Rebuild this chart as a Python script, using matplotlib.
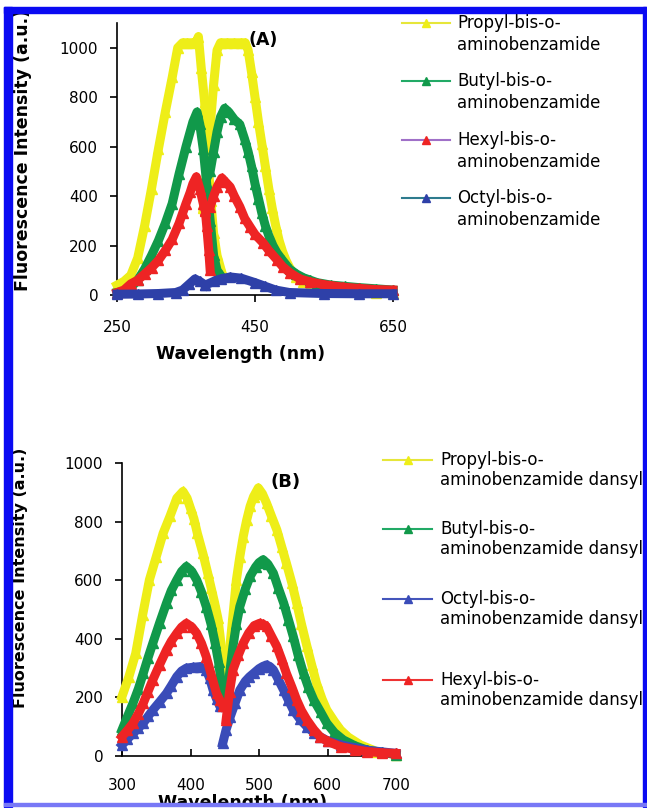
import matplotlib
matplotlib.use('Agg')
import matplotlib.pyplot as plt
from matplotlib.patches import Rectangle

plt.rcParams['font.family'] = ['DejaVu Sans']

# ==================== DATA ====================
# (A) bis-o-aminobenzamides, each spectrum has two parts
propyl_a_wl1 = [250, 260, 270, 280, 290, 300, 310, 320, 330, 338, 345, 352, 360, 365, 368, 372, 377, 382, 386, 390, 395, 400]
propyl_a_v1 = [40, 55, 80, 150, 280, 430, 590, 740, 880, 1000, 1020, 1020, 1020, 1025, 1045, 920, 780, 540, 380, 250, 160, 110]
propyl_a_wl2 = [375, 380, 385, 390, 395, 400, 410, 420, 430, 436, 440, 445, 450, 455, 460, 465, 470, 475, 480, 485,
                490, 495, 500, 505, 510, 520, 530, 550, 575, 600, 625, 650]
propyl_a_v2 = [350, 500, 680, 850, 990, 1020, 1020, 1020, 1020, 1020, 990, 900, 800, 700, 610, 520, 430, 350, 280, 220,
               175, 140, 112, 90, 72, 52, 40, 27, 18, 13, 10, 10]

butyl_a_wl1 = [250, 260, 270, 280, 290, 300, 310, 320, 330, 340, 350, 360, 366, 370, 375, 380, 385, 390, 395, 400]
butyl_a_v1 = [10, 15, 30, 60, 105, 160, 220, 290, 370, 490, 600, 700, 740, 690, 590, 450, 300, 160, 100, 80]
butyl_a_wl2 = [378, 385, 390, 395, 400, 406, 412, 420, 428, 435, 440, 445, 450, 455, 460, 465, 470, 476, 482, 490,
               500, 510, 520, 530, 540, 560, 580, 600, 625, 650]
butyl_a_v2 = [460, 500, 580, 660, 720, 755, 740, 710, 690, 630, 580, 520, 450, 390, 330, 280, 240, 200, 170, 140,
              105, 85, 70, 60, 50, 40, 35, 30, 25, 20]

hexyl_a_wl1 = [250, 260, 270, 280, 290, 300, 310, 320, 330, 340, 345, 350, 356, 360, 365, 370, 375, 378, 380, 383, 385]
hexyl_a_v1 = [10, 20, 45, 60, 85, 110, 140, 180, 225, 290, 330, 370, 415, 450, 478, 430, 370, 340, 280, 180, 100]
hexyl_a_wl2 = [378, 385, 390, 395, 402, 408, 414, 420, 428, 435, 443, 450, 462, 470, 482, 490, 501, 515, 530, 550,
               577, 600, 625, 650]
hexyl_a_v2 = [345, 355, 400, 437, 473, 455, 437, 400, 357, 310, 275, 245, 210, 180, 142, 115, 89, 65, 53, 42,
              32, 27, 22, 20]

octyl_a_wl1 = [250, 280, 310, 335, 345, 355, 363, 370, 378]
octyl_a_v1 = [3, 4, 6, 10, 20, 45, 65, 55, 40]
octyl_a_wl2 = [378, 390, 400, 414, 430, 450, 465, 480, 500, 550, 600, 650]
octyl_a_v2 = [40, 55, 65, 73, 68, 50, 35, 20, 10, 6, 5, 5]

# (B) dansyl derivatives
propyl_b_wl1 = [300, 310, 320, 330, 340, 350, 360, 370, 380, 389, 395, 400, 405, 410, 418, 425, 430, 435, 440, 445, 450]
propyl_b_v1 = [203, 270, 350, 480, 601, 680, 760, 818, 880, 903, 880, 845, 810, 760, 692, 625, 575, 525, 470, 374, 294]
propyl_b_wl2 = [452, 455, 458, 462, 467, 472, 477, 482, 487, 492, 499, 505, 511, 518, 526, 533, 540, 548, 555, 562,
                570, 577, 584, 592, 599, 610, 619, 630, 648, 672, 700]
propyl_b_v2 = [282, 330, 385, 480, 601, 680, 749, 805, 852, 885, 915, 895, 863, 820, 772, 715, 658, 590, 522, 450,
               374, 310, 248, 195, 157, 118, 89, 65, 38, 15, 5]

butyl_b_wl1 = [300, 308, 316, 324, 331, 338, 345, 355, 365, 372, 380, 387, 394, 402, 409, 416, 423, 430, 436, 441, 445, 450]
butyl_b_v1 = [89, 135, 180, 230, 282, 335, 385, 455, 522, 565, 601, 630, 647, 630, 601, 560, 510, 450, 385, 320, 248, 200]
butyl_b_wl2 = [452, 457, 462, 467, 472, 480, 487, 495, 500, 506, 513, 521, 528, 536, 543, 550, 557, 565, 572, 580,
               590, 599, 610, 623, 640, 658, 680, 700]
butyl_b_v2 = [190, 280, 374, 450, 510, 570, 613, 645, 660, 670, 655, 624, 575, 522, 465, 408, 345, 282, 235, 191,
              150, 112, 80, 55, 35, 20, 12, 5]

hexyl_b_wl1 = [300, 308, 316, 324, 331, 338, 345, 355, 365, 372, 380, 387, 394, 402, 409, 416, 423, 430, 438, 443, 448]
hexyl_b_v1 = [66, 88, 112, 145, 180, 220, 260, 312, 362, 392, 419, 440, 453, 440, 419, 385, 339, 280, 214, 190, 169]
hexyl_b_wl2 = [452, 457, 462, 470, 477, 485, 493, 501, 506, 511, 518, 526, 533, 540, 548, 555, 562, 570, 580, 589,
               600, 619, 640, 658, 680, 700]
hexyl_b_v2 = [123, 220, 294, 345, 385, 420, 445, 453, 450, 442, 410, 374, 330, 282, 235, 191, 155, 123, 90, 66,
              50, 32, 22, 15, 11, 9]

octyl_b_wl1 = [300, 308, 316, 324, 331, 338, 345, 355, 365, 372, 380, 387, 394, 404, 414, 423, 428, 433, 438, 443]
octyl_b_v1 = [38, 58, 77, 95, 112, 135, 157, 185, 214, 240, 271, 290, 300, 303, 305, 294, 265, 225, 195, 169]
octyl_b_wl2 = [447, 452, 458, 465, 472, 480, 486, 492, 500, 505, 511, 516, 521, 528, 536, 543, 550, 560, 570, 580,
               589, 600, 619, 640, 658, 680, 700]
octyl_b_v2 = [43, 90, 134, 180, 225, 255, 270, 282, 298, 305, 311, 305, 294, 262, 225, 190, 157, 125, 100, 80,
              66, 52, 38, 28, 20, 14, 9]

labels_a = ['Propyl-bis-o-\naminobenzamide', 'Butyl-bis-o-\naminobenzamide',
            'Hexyl-bis-o-\naminobenzamide', 'Octyl-bis-o-\naminobenzamide']
labels_b = ['Propyl-bis-o-\naminobenzamide dansyl', 'Butyl-bis-o-\naminobenzamide dansyl',
            'Octyl-bis-o-\naminobenzamide dansyl', 'Hexyl-bis-o-\naminobenzamide dansyl']

YELLOW = '#EEEE18'
GREEN = '#11994A'
RED = '#EE2424'
BLUE_A = '#2E40A8'
BLUE_B = '#3A4CB8'

# ==================== FIGURE ====================
W, H = 647, 808
fig = plt.figure(figsize=(W / 100, H / 100), dpi=100)
fig.patch.set_facecolor('white')


def px_rect(x0, y0, x1, y1):
    return [x0 / W, 1 - y1 / H, (x1 - x0) / W, (y1 - y0) / H]


def draw(ax, segs, color):
    for wl, val in segs:
        ax.plot(wl, val, color=color, lw=6.5, marker='^', ms=7.5, mec=color,
                zorder=3, clip_on=False)


def style(ax):
    for s in ['top', 'right']:
        ax.spines[s].set_visible(False)
    for s in ['left', 'bottom']:
        ax.spines[s].set_linewidth(1.2)
        ax.spines[s].set_zorder(2)


# Panel A
axA = fig.add_axes(px_rect(117, 23, 393, 295))
draw(axA, [(propyl_a_wl1, propyl_a_v1), (propyl_a_wl2, propyl_a_v2)], YELLOW)
draw(axA, [(butyl_a_wl1, butyl_a_v1), (butyl_a_wl2, butyl_a_v2)], GREEN)
draw(axA, [(hexyl_a_wl1, hexyl_a_v1), (hexyl_a_wl2, hexyl_a_v2)], RED)
draw(axA, [(octyl_a_wl1, octyl_a_v1), (octyl_a_wl2, octyl_a_v2)], BLUE_A)
axA.set_xlim(250, 650)
axA.set_ylim(0, 1100)
axA.set_xticks([250, 450, 650])
axA.set_yticks(range(0, 1001, 200))
axA.tick_params(axis='x', direction='out', length=5, width=1.2, pad=13, labelsize=11)
axA.tick_params(axis='y', direction='out', length=5, width=1.2, pad=8.5, labelsize=11)
style(axA)
axA.set_xlabel('Wavelength (nm)', fontsize=12.5, fontweight='bold')
axA.xaxis.set_label_coords(0.449, -0.185)
axA.set_ylabel('Fluorescence Intensity (a.u.)', fontsize=12.5, fontweight='bold')
axA.yaxis.set_label_coords(-0.308, 0.533)
axA.text(462, 1032, '(A)', fontsize=12.5, fontweight='bold', ha='center', va='center')

# Panel B
axB = fig.add_axes(px_rect(122, 463, 396, 756))
draw(axB, [(propyl_b_wl1, propyl_b_v1), (propyl_b_wl2, propyl_b_v2)], YELLOW)
draw(axB, [(butyl_b_wl1, butyl_b_v1), (butyl_b_wl2, butyl_b_v2)], GREEN)
draw(axB, [(octyl_b_wl1, octyl_b_v1), (octyl_b_wl2, octyl_b_v2)], BLUE_B)
draw(axB, [(hexyl_b_wl1, hexyl_b_v1), (hexyl_b_wl2, hexyl_b_v2)], RED)
axB.set_xlim(300, 700)
axB.set_ylim(0, 1000)
axB.set_xticks(range(300, 701, 100))
axB.set_yticks(range(0, 1001, 200))
axB.tick_params(axis='x', direction='in', length=5, width=1.2, pad=16, labelsize=11)
axB.tick_params(axis='y', direction='out', length=5, width=1.2, pad=8.5, labelsize=11)
style(axB)
axB.set_xlabel('Wavelength (nm)', fontsize=12.5, fontweight='bold')
axB.xaxis.set_label_coords(0.44, -0.13)
axB.set_ylabel('Fluorescence Intensity (a.u.)', fontsize=11.5, fontweight='bold')
axB.yaxis.set_label_coords(-0.343, 0.607)
axB.text(539, 935, '(B)', fontsize=13, fontweight='bold', ha='center', va='center')

# overlay in pixel coords: legends and blue frame
ov = fig.add_axes([0, 0, 1, 1], zorder=10)
ov.set_xlim(0, W)
ov.set_ylim(H, 0)
ov.axis('off')
ov.patch.set_alpha(0)

leg_a_lines = ['#E6E63A', '#22AA66', '#A070C8', '#2E7B8E']
leg_a_marks = [YELLOW, GREEN, RED, BLUE_A]
for i, (lab, lc, mc) in enumerate(zip(labels_a, leg_a_lines, leg_a_marks)):
    y = 23 + 58.3 * i
    ov.plot([402, 450], [y, y], color=lc, lw=1.5)
    ov.plot([426], [y], marker='^', ms=5.5, color=mc, mec=mc)
    ov.text(457, y - 9, lab, fontsize=12, va='top', ha='left', linespacing=1.3)

leg_b_y = [460, 529, 599, 680]
leg_b_lines = ['#E6E63A', '#22AA66', '#4455BB', '#EE3333']
leg_b_marks = [YELLOW, GREEN, BLUE_B, RED]
for lab, y, lc, mc in zip(labels_b, leg_b_y, leg_b_lines, leg_b_marks):
    ov.plot([383, 432], [y, y], color=lc, lw=1.5)
    ov.plot([408], [y], marker='^', ms=5.5, color=mc, mec=mc)
    ov.text(440, y - 9, lab, fontsize=12, va='top', ha='left', linespacing=1.15)

frame_blue = '#0A0AF2'
ov.add_patch(Rectangle((0, 0), W, 7, color='white', zorder=20))
ov.add_patch(Rectangle((4, 7), 8, 800, color=frame_blue, zorder=21))
ov.add_patch(Rectangle((4, 7), 642, 6, color=frame_blue, zorder=21))
ov.add_patch(Rectangle((643, 7), 4, 800, color=frame_blue, zorder=21))
ov.add_patch(Rectangle((4, 803), 643, 3, color='#7878F6', zorder=21))
ov.add_patch(Rectangle((0, 806), W, 2, color='white', zorder=20))

fig.savefig('out.png', dpi=100, facecolor='white')
